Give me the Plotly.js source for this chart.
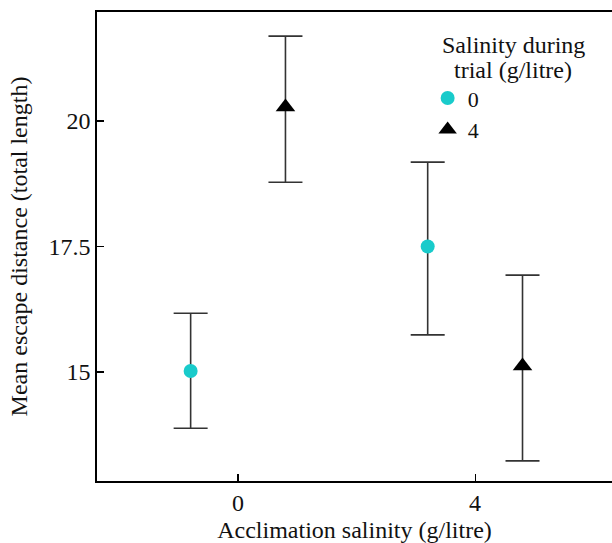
<!DOCTYPE html>
<html>
<head>
<meta charset="utf-8">
<script src="https://cdn.plot.ly/plotly-3.0.1.min.js"></script>
<style>html,body{margin:0;padding:0;background:#fff;}</style>
</head>
<body>
<div id="chart" style="width:612px;height:543px;"></div>
<script>
// Acclimation salinity groups (g/litre)
const acclimation = [0, 4];
// Trial salinity 0 g/litre
const trial0Mean = [15.02, 17.5];
const trial0Upper = [16.17, 19.18];
const trial0Lower = [13.88, 15.74];
// Trial salinity 4 g/litre
const trial4Mean = [20.28, 15.12];
const trial4Upper = [21.69, 16.93];
const trial4Lower = [18.78, 13.23];
const tickVals = [0, 4];
const yTicks = [15, 17.5, 20];
const legendTitle = ['Salinity during', 'trial (g/litre)'];

const dodge = 0.8;
const serif = 'Liberation Serif';
const fs = 24;
const errStyle = {color: '#333333', thickness: 1.6, width: 17};

const traces = [
  {
    name: '0', type: 'scatter', mode: 'markers',
    x: acclimation.map(v => v - dodge), y: trial0Mean,
    marker: {symbol: 'circle', size: 14, color: '#19CBCB'},
    error_y: Object.assign({type: 'data', symmetric: false,
      array: trial0Upper.map((u, i) => u - trial0Mean[i]),
      arrayminus: trial0Mean.map((m, i) => m - trial0Lower[i])}, errStyle)
  },
  {
    name: '4', type: 'scatter', mode: 'markers',
    x: acclimation.map(v => v + dodge), y: trial4Mean,
    marker: {symbol: 'triangle-up', size: 17, color: '#000000'},
    error_y: Object.assign({type: 'data', symmetric: false,
      array: trial4Upper.map((u, i) => u - trial4Mean[i]),
      arrayminus: trial4Mean.map((m, i) => m - trial4Lower[i])}, errStyle)
  }
];

const layout = {
  width: 612, height: 543,
  margin: {l: 97, r: 0, t: 12, b: 62},
  paper_bgcolor: '#fff', plot_bgcolor: '#fff',
  font: {family: serif, size: fs, color: '#111'},
  showlegend: true,
  legend: {
    x: 0.642, y: 0.861, xanchor: 'left', yanchor: 'top',
    bgcolor: 'rgba(0,0,0,0)',
    font: {family: serif, size: 22},
    itemwidth: 30, tracegroupgap: 0
  },
  annotations: legendTitle.map((t, i) => ({
    text: t, xref: 'paper', yref: 'paper',
    x: 0.808, y: 1 - (30 + i * 25 - 12) / 469, xanchor: 'center', yanchor: 'top',
    showarrow: false, font: {family: serif, size: fs, color: '#111'}
  })),
  xaxis: {
    range: [-2.38, 6.31], tickvals: tickVals, ticktext: tickVals.map(String),
    ticks: 'inside', ticklen: 7, tickwidth: 1.2, tickcolor: '#000',
    showline: true, linecolor: '#000', linewidth: 1.6, mirror: true,
    showgrid: false, zeroline: false,
    tickfont: {family: serif, size: fs},
    title: {text: 'Acclimation salinity (g/litre)', font: {family: serif, size: fs}, standoff: 6}
  },
  yaxis: {
    range: [12.83, 22.17], tickvals: yTicks, ticktext: ['15', '17.5', '20'],
    ticks: 'inside', ticklen: 7, tickwidth: 1.2, tickcolor: '#000',
    showline: true, linecolor: '#000', linewidth: 1.6, mirror: false,
    showgrid: false, zeroline: false,
    tickfont: {family: serif, size: fs},
    title: {text: 'Mean escape distance (total length)', font: {family: serif, size: fs}, standoff: 14}
  }
};

Plotly.newPlot('chart', traces, layout, {displayModeBar: false, staticPlot: true});
</script>
</body>
</html>
